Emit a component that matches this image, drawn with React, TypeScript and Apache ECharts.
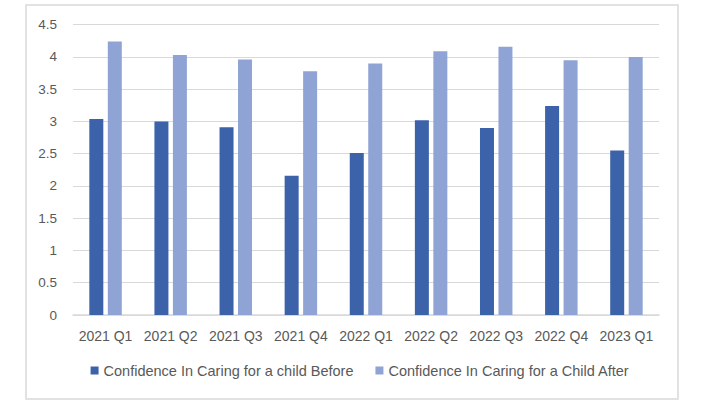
import React, { useEffect, useRef } from "react";
import * as echarts from "echarts";

const categories = ["2021 Q1", "2021 Q2", "2021 Q3", "2021 Q4", "2022 Q1", "2022 Q2", "2022 Q3", "2022 Q4", "2023 Q1"];
const beforeValues = [3.04, 3.0, 2.91, 2.16, 2.51, 3.02, 2.9, 3.24, 2.55];
const afterValues = [4.24, 4.03, 3.96, 3.78, 3.9, 4.09, 4.16, 3.95, 4.0];
const seriesNames = ["Confidence In Caring for a child Before", "Confidence In Caring for a Child After"];

export default function App() {
  const ref = useRef<HTMLDivElement>(null);
  useEffect(() => {
    if (!ref.current) return;
    const chart = echarts.init(ref.current, null, { renderer: "svg" });
    const font = "'Liberation Sans', 'Noto Sans', sans-serif";
    chart.setOption({
      animation: false,
      backgroundColor: "#ffffff",
      textStyle: { fontFamily: font },
      graphic: [
        {
          type: "rect",
          shape: { x: 26, y: 5, width: 652, height: 394 },
          style: { fill: "none", stroke: "#D9D9D9", lineWidth: 1.5 },
          silent: true,
        },
      ],
      grid: { left: 73, right: 61, top: 24.7, bottom: 90, containLabel: false },
      legend: {
        bottom: 22,
        left: "center",
        itemWidth: 8,
        itemHeight: 8,
        itemGap: 22,
        icon: "rect",
        textStyle: { color: "#595959", fontSize: 14.5, fontFamily: font },
        data: seriesNames,
      },
      xAxis: {
        type: "category",
        data: categories,
        axisLine: { lineStyle: { color: "#D9D9D9", width: 1.5 } },
        axisTick: { show: false },
        axisLabel: { color: "#595959", fontSize: 14, margin: 14, interval: 0, fontFamily: font },
      },
      yAxis: {
        type: "value",
        min: 0,
        max: 4.5,
        interval: 0.5,
        axisLine: { show: false },
        axisTick: { show: false },
        splitLine: { lineStyle: { color: "#D9D9D9", width: 1.2 } },
        axisLabel: { color: "#595959", fontSize: 13.5, margin: 16, fontFamily: font },
      },
      series: [
        {
          name: seriesNames[0],
          type: "bar",
          data: beforeValues,
          barWidth: 14,
          barGap: "32%",
          itemStyle: { color: "#3C62A9" },
        },
        {
          name: seriesNames[1],
          type: "bar",
          data: afterValues,
          barWidth: 14,
          itemStyle: { color: "#8FA4D4" },
        },
      ],
    });
    return () => chart.dispose();
  }, []);
  return (
    <div
      ref={ref}
      style={{ position: "fixed", left: 0, top: 0, width: 720, height: 405 }}
    />
  );
}
